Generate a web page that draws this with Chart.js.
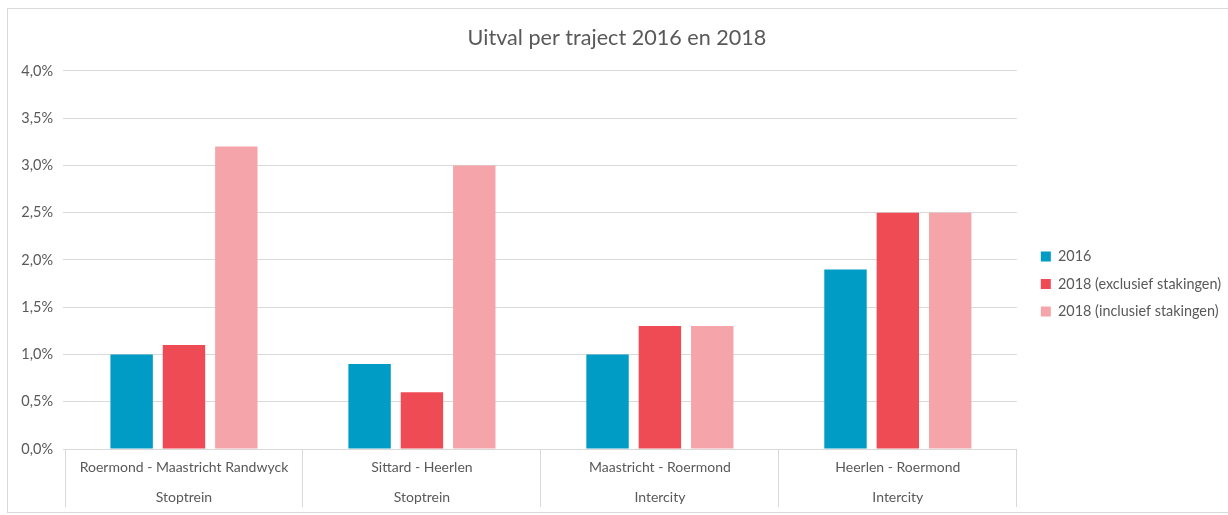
<!DOCTYPE html>
<html>
<head>
<meta charset="utf-8">
<script src="https://cdn.jsdelivr.net/npm/chart.js@4/dist/chart.umd.min.js"></script>
<style>
  html, body { margin: 0; padding: 0; background: #fff; }
  #wrap { position: relative; width: 1228px; height: 515px; overflow: hidden; }
  #frame { position: absolute; left: 7px; top: 8px; width: 1240px; height: 503px; border: 1px solid #d9d9d9; pointer-events: none; }
</style>
</head>
<body>
<div id="wrap">
  <canvas id="chart" width="1228" height="515"></canvas>
  <div id="frame"></div>
</div>
<script>
const routes = ['Roermond - Maastricht Randwyck', 'Sittard - Heerlen', 'Maastricht - Roermond', 'Heerlen - Roermond'];
const trainTypes = ['Stoptrein', 'Stoptrein', 'Intercity', 'Intercity'];
const seriesNames = ['2016', '2018 (exclusief stakingen)', '2018 (inclusief stakingen)'];
const values2016 = [1.0, 0.9, 1.0, 1.9];
const values2018Excl = [1.1, 0.6, 1.3, 2.5];
const values2018Incl = [3.2, 3.0, 1.3, 2.5];
const seriesColors = ['#009cc5', '#ef4b55', '#f5a5a9'];

const textColor = '#595959';
const gridColor = '#d9d9d9';
const fontFamily = 'Lato, "Open Sans", sans-serif';

const labels = routes.map((r, i) => [r, trainTypes[i]]);

// nudge the legend a bit right and down, like the original
const legendNudge = {
  id: 'legendNudge',
  afterLayout(chart) {
    const lg = chart.legend;
    if (!lg) return;
    lg.left += 11; lg.right += 11;
    lg.top += 23; lg.bottom += 23;
  },
};

new Chart(document.getElementById('chart'), {
  type: 'bar',
  data: {
    labels,
    datasets: [values2016, values2018Excl, values2018Incl].map((data, i) => ({
      label: seriesNames[i],
      data,
      backgroundColor: seriesColors[i],
      categoryPercentage: 0.66,
      barPercentage: 0.81,
    })),
  },
  options: {
    responsive: false,
    animation: false,
    layout: { padding: { left: 14, right: 8, top: 10, bottom: 3 } },
    plugins: {
      title: {
        display: true,
        text: 'Uitval per traject 2016 en 2018',
        color: textColor,
        font: { family: fontFamily, size: 21.6, weight: 'normal' },
        padding: { top: 15, bottom: 20 },
      },
      legend: {
        position: 'right',
        labels: {
          color: textColor,
          font: { family: fontFamily, size: 14.4 },
          boxWidth: 10,
          boxHeight: 10,
          padding: 13,
        },
      },
      tooltip: { enabled: false },
    },
    scales: {
      x: {
        grid: {
          offset: true,
          drawOnChartArea: false,
          color: gridColor,
          tickLength: 58,
        },
        border: { color: gridColor },
        afterFit: scale => { scale.height = 63; },
        ticks: {
          color: textColor,
          font: { family: fontFamily, size: 14, lineHeight: 30 / 14 },
          padding: -55,
          maxRotation: 0,
          autoSkip: false,
        },
      },
      y: {
        min: 0,
        max: 4,
        grid: { color: gridColor, tickLength: 2 },
        border: { display: false },
        afterFit: scale => { scale.width = 51; },
        ticks: {
          stepSize: 0.5,
          color: textColor,
          font: { family: fontFamily, size: 14.5 },
          padding: 10,
          callback: v => v.toFixed(1).replace('.', ',') + '%',
        },
      },
    },
  },
  plugins: [legendNudge],
});
</script>
</body>
</html>
